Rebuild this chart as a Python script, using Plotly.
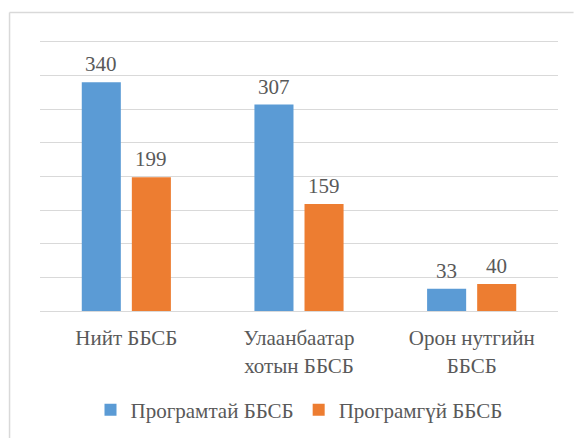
import plotly.graph_objects as go

categories = ["Нийт ББСБ", "Улаанбаатар<br>хотын ББСБ", "Орон нутгийн<br>ББСБ"]
series_names = ["Програмтай ББСБ", "Програмгүй ББСБ"]
with_program = [340, 307, 33]
without_program = [199, 159, 40]
colors = ["#5B9BD5", "#ED7D31"]

FONT = "Liberation Serif"
TXT = "#595959"
GRID = "#D9D9D9"

fig = go.Figure()
for name, vals, col in zip(series_names, [with_program, without_program], colors):
    fig.add_trace(go.Bar(
        x=categories, y=vals, name=name, marker=dict(color=col, line=dict(width=0)),
    ))

annotations = []
for offset, vals in zip([-25.1, 25.1], [with_program, without_program]):
    for cat, v in zip(categories, vals):
        annotations.append(dict(x=cat, y=v, xref="x", yref="y", text=str(v),
                                showarrow=False, xshift=offset, yshift=4,
                                yanchor="bottom", xanchor="center",
                                font=dict(family=FONT, size=21, color=TXT)))

fig.update_layout(
    width=574, height=438,
    margin=dict(l=39.5, r=15.5, t=42, b=127, autoexpand=False),
    paper_bgcolor="white", plot_bgcolor="white",
    barmode="group", bargap=0.42, bargroupgap=0.22,
    font=dict(family=FONT, size=21, color=TXT),
    showlegend=True,
    legend=dict(orientation="h", x=0.5, xanchor="center", y=-0.368, yanchor="middle",
                font=dict(family=FONT, size=21, color=TXT), itemwidth=30,
                traceorder="normal"),
    xaxis=dict(showline=True, linecolor=GRID, linewidth=1, mirror=True, ticks="",
               tickfont=dict(family=FONT, size=21, color=TXT),
               ticklabelstandoff=8, automargin=False),
    yaxis=dict(range=[0, 400], tickvals=[0, 50, 100, 150, 200, 250, 300, 350, 400],
               showticklabels=False, gridcolor=GRID,
               gridwidth=1, zeroline=False,
               showline=False, automargin=False),
    annotations=annotations,
    shapes=[
        dict(type="line", xref="paper", yref="paper",
             x0=-0.0588, x1=1.03, y0=1.11, y1=1.11,
             line=dict(color=GRID, width=1.5), layer="above"),
        dict(type="line", xref="paper", yref="paper", x0=-0.0588, x1=-0.0588,
             y0=-0.6, y1=1.11, line=dict(color=GRID, width=1.5), layer="below"),
    ],
)

fig.write_html("out.html", post_script="document.body.style.margin='0';",
               config={"displayModeBar": False})
